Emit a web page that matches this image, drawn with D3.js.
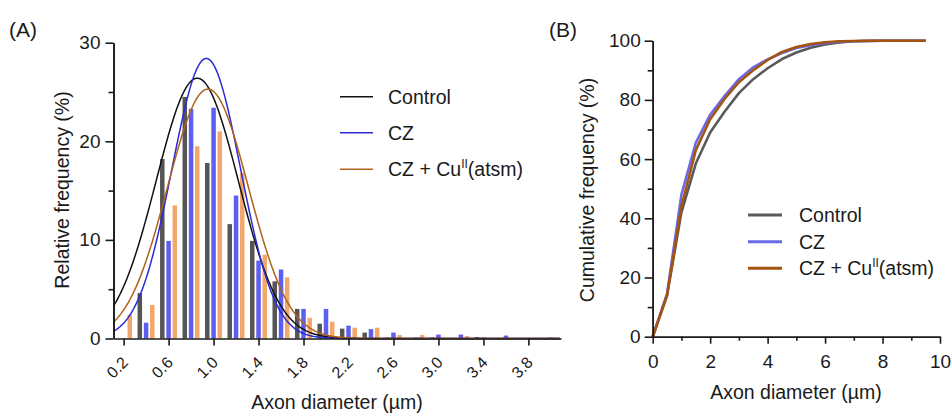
<!DOCTYPE html>
<html>
<head>
<meta charset="utf-8">
<script src="https://cdn.jsdelivr.net/npm/d3@7"></script>
<style>
  body { margin: 0; background: #fff; }
  svg { font-family: "Liberation Sans", Arial, Helvetica, sans-serif; }
  .axis path, .axis line { stroke: #1a1a1a; stroke-width: 1.6px; }
  .axis text { fill: #1a1a1a; font-size: 19px; }
</style>
</head>
<body>
<div id="chart"></div>
<script>
// Panel A: histogram of axon diameters (bins 0.2 µm wide)
const binCenters = [0.2, 0.4, 0.6, 0.8, 1.0, 1.2, 1.4, 1.6, 1.8, 2.0, 2.2, 2.4, 2.6, 2.8, 3.0, 3.2, 3.4, 3.6, 3.8, 4.0];
const controlFreq = [0, 4.6, 18.2, 24.5, 17.8, 11.6, 9.9, 5.8, 3.0, 1.5, 1.0, 0.6, 0.1, 0.05, 0.1, 0, 0.15, 0, 0.05, 0];
const czFreq = [0, 1.6, 9.9, 23.3, 23.4, 14.5, 7.9, 7.0, 3.0, 3.0, 1.3, 0.95, 0.6, 0.1, 0.4, 0.4, 0.1, 0.3, 0, 0.1];
const czCuFreq = [2.4, 3.4, 13.5, 19.5, 21.0, 16.8, 8.5, 6.2, 2.1, 1.7, 1.1, 1.1, 0.35, 0.35, 0.05, 0.25, 0.05, 0.05, 0.05, 0];
const xTicksA = [0.2, 0.6, 1.0, 1.4, 1.8, 2.2, 2.6, 3.0, 3.4, 3.8];
const yTicksA = [0, 10, 20, 30];

// Gaussian fits: [amplitude, mean, sd]
const controlFit = [26.4, 0.855, 0.365];
const czFit = [28.4, 0.935, 0.305];
const czCuFit = [25.3, 0.95, 0.36];

// Panel B: cumulative frequency
const cumX = [0, 0.5, 1.0, 1.5, 2.0, 2.5, 3.0, 3.5, 4.0, 4.5, 5.0, 5.5, 6.0, 6.5, 7.0, 7.5, 8.0, 8.5, 9.0, 9.5];
const controlCum = [0, 14, 42, 58.5, 69, 76, 82.3, 87, 90.7, 93.8, 96, 97.6, 98.7, 99.4, 99.8, 99.95, 100, 100, 100, 100];
const czCum = [0, 14.5, 48, 65.5, 75, 81.3, 87, 91, 93.7, 95.8, 97.5, 98.5, 99.2, 99.6, 99.8, 99.9, 100, 100, 100, 100];
const czCuCum = [0, 14, 44, 63, 73.5, 80.3, 86, 90, 93.5, 96.2, 97.9, 98.9, 99.5, 99.8, 99.9, 100, 100, 100, 100, 100];
const xTicksB = [0, 2, 4, 6, 8, 10];
const yTicksB = [0, 20, 40, 60, 80, 100];

const groups = ["Control", "CZ", "CZ + Cu"];
const barColors = ["#555555", "#5e5ef0", "#f2a86c"];
const fitColors = ["#111111", "#2b2bd6", "#b0621c"];
const cumColors = ["#5a5a5a", "#6a6ae6", "#a4540f"];

let svg = d3.select("#chart").append("svg")
    .attr("width", 952)
    .attr("height", 414);

/**
 * Writes a legend label, with the superscript for Cu(II).
 */
function legendText(sel, name) {
    if (name === "CZ + Cu") {
        sel.append("tspan").text("CZ + Cu");
        sel.append("tspan").text("II").attr("dy", -8).attr("font-size", "12px");
        sel.append("tspan").text("(atsm)").attr("dy", 8);
    } else {
        sel.text(name);
    }
}

// ---------- Panel A ----------
let xA = d3.scaleLinear().domain([0.11, 4.09]).range([113.5, 561]);
let yA = d3.scaleLinear().domain([0, 30]).range([338.5, 42.7]);
let barW = xA(0.04) - xA(0);
let offsets = [-0.056, 0, 0.055];
let seriesA = [controlFreq, czFreq, czCuFreq];

let gA = svg.append("g");

seriesA.forEach(function(vals, i) {
    gA.selectAll(".bar" + i)
        .data(binCenters.map((c, j) => ({c: c, v: vals[j]})))
        .enter()
        .append("rect")
            .attr("x", d => xA(d.c + offsets[i]) - barW / 2)
            .attr("y", d => yA(d.v))
            .attr("width", barW)
            .attr("height", d => yA(0) - yA(d.v))
            .attr("fill", barColors[i]);
});

// Fitted gaussian curves
let fits = [controlFit, czFit, czCuFit];
let fitXs = d3.range(0.11, 4.09, 0.01);
fits.forEach(function(f, i) {
    let line = d3.line()
        .x(d => xA(d))
        .y(d => yA(f[0] * Math.exp(-Math.pow(d - f[1], 2) / (2 * f[2] * f[2]))));
    gA.append("path")
        .attr("d", line(fitXs))
        .attr("fill", "none")
        .attr("stroke", fitColors[i])
        .attr("stroke-width", 1.5);
});

// Axes
gA.append("g").attr("class", "axis")
    .attr("transform", "translate(" + xA.range()[0] + ",0)")
    .call(d3.axisLeft(yA).tickValues(yTicksA).tickSize(8).tickSizeOuter(0).tickPadding(5));
gA.append("g").attr("class", "axis")
    .attr("transform", "translate(" + xA.range()[0] + ",0)")
    .call(d3.axisLeft(yA).tickValues([5, 15, 25]).tickSize(5).tickFormat("").tickSizeOuter(0));
let xAxisA = gA.append("g").attr("class", "axis")
    .attr("transform", "translate(0," + yA(0) + ")")
    .call(d3.axisBottom(xA).tickValues(xTicksA).tickSize(7).tickSizeOuter(0)
        .tickFormat(d3.format(".1f")));
xAxisA.selectAll("text")
    .style("font-size", "16px")
    .attr("text-anchor", "end")
    .attr("x", 0).attr("y", 0)
    .attr("dy", "0.35em")
    .attr("transform", "translate(1,21) rotate(-45)");

gA.append("text")
    .attr("transform", "translate(69,190) rotate(-90)")
    .attr("text-anchor", "middle")
    .attr("font-size", "19.5px")
    .attr("fill", "#1a1a1a")
    .text("Relative frequency (%)");
gA.append("text")
    .attr("x", 337).attr("y", 409)
    .attr("text-anchor", "middle")
    .attr("font-size", "19.5px")
    .attr("fill", "#1a1a1a")
    .text("Axon diameter (µm)");
gA.append("text")
    .attr("x", 9).attr("y", 37)
    .attr("font-size", "21px")
    .attr("fill", "#1a1a1a")
    .text("(A)");

// Legend A
let legA = [96.7, 132.7, 169.3];
groups.forEach(function(name, i) {
    gA.append("line")
        .attr("x1", 340).attr("x2", 373)
        .attr("y1", legA[i]).attr("y2", legA[i])
        .attr("stroke", fitColors[i])
        .attr("stroke-width", 1.5);
    let t = gA.append("text")
        .attr("x", 388).attr("y", legA[i] + 7)
        .attr("font-size", "19.5px")
        .attr("fill", "#1a1a1a");
    legendText(t, name);
});

// ---------- Panel B ----------
let xB = d3.scaleLinear().domain([0, 10]).range([652.7, 940]);
let yB = d3.scaleLinear().domain([0, 100]).range([336.7, 40.7]);
let gB = svg.append("g");

let cumSeries = [controlCum, czCum, czCuCum];
let cumLine = d3.line().x((d, j) => xB(cumX[j])).y(d => yB(d));
cumSeries.forEach(function(vals, i) {
    gB.append("path")
        .attr("d", cumLine(vals))
        .attr("fill", "none")
        .attr("stroke", cumColors[i])
        .attr("stroke-width", 2.6)
        .attr("stroke-linejoin", "round");
});

gB.append("g").attr("class", "axis")
    .attr("transform", "translate(" + xB(0) + ",0)")
    .call(d3.axisLeft(yB).tickValues(yTicksB).tickSize(8).tickSizeOuter(0).tickPadding(4));
gB.append("g").attr("class", "axis")
    .attr("transform", "translate(" + xB(0) + ",0)")
    .call(d3.axisLeft(yB).tickValues([10, 30, 50, 70, 90]).tickSize(5).tickFormat("").tickSizeOuter(0));
gB.append("g").attr("class", "axis")
    .attr("transform", "translate(0," + yB(0) + ")")
    .call(d3.axisBottom(xB).tickValues(xTicksB).tickSize(7).tickSizeOuter(0).tickPadding(11));
gB.append("g").attr("class", "axis")
    .attr("transform", "translate(0," + yB(0) + ")")
    .call(d3.axisBottom(xB).tickValues([1, 3, 5, 7, 9]).tickSize(4).tickFormat("").tickSizeOuter(0));

gB.append("text")
    .attr("transform", "translate(594,190) rotate(-90)")
    .attr("text-anchor", "middle")
    .attr("font-size", "19.5px")
    .attr("fill", "#1a1a1a")
    .text("Cumulative frequency (%)");
gB.append("text")
    .attr("x", 796).attr("y", 399)
    .attr("text-anchor", "middle")
    .attr("font-size", "19.5px")
    .attr("fill", "#1a1a1a")
    .text("Axon diameter (µm)");
gB.append("text")
    .attr("x", 549).attr("y", 37)
    .attr("font-size", "21px")
    .attr("fill", "#1a1a1a")
    .text("(B)");

let legB = [215, 241.7, 268.3];
groups.forEach(function(name, i) {
    gB.append("line")
        .attr("x1", 748).attr("x2", 782)
        .attr("y1", legB[i]).attr("y2", legB[i])
        .attr("stroke", cumColors[i])
        .attr("stroke-width", 3);
    let t = gB.append("text")
        .attr("x", 799).attr("y", legB[i] + 7)
        .attr("font-size", "19.5px")
        .attr("fill", "#1a1a1a");
    legendText(t, name);
});
</script>
</body>
</html>
